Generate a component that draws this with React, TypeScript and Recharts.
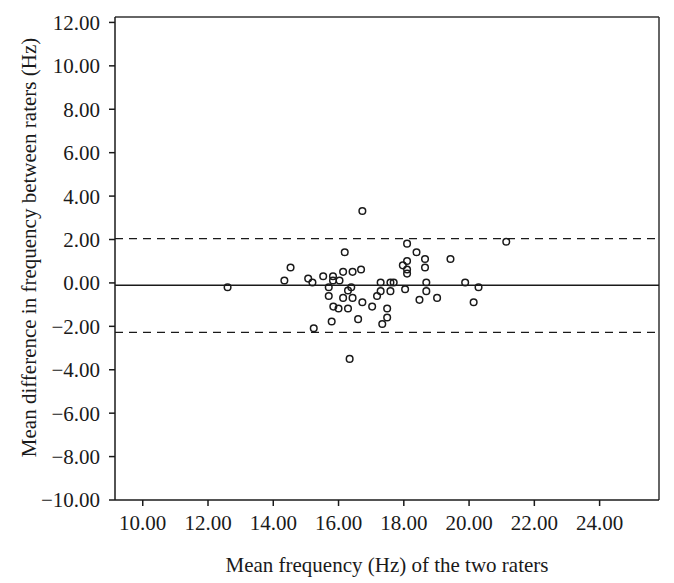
import {
  ReferenceLine,
  Scatter,
  ScatterChart,
  XAxis,
  YAxis,
} from "recharts";

const meanFrequency = [
  12.6, 14.34, 14.53, 15.07, 15.2, 15.24, 15.53, 15.7, 15.7, 15.79, 15.83,
  15.83, 15.84, 16.0, 16.03, 16.14, 16.19, 16.14, 16.29, 16.29, 16.34, 16.39,
  16.43, 16.43, 16.6, 16.69, 16.73, 16.73, 17.03, 17.18, 17.29, 17.29, 17.49,
  17.49, 17.34, 17.59, 17.69, 17.59, 18.04, 17.97, 18.1, 18.1, 18.1, 18.1,
  18.39, 18.48, 18.65, 18.65, 18.69, 18.69, 19.02, 19.43, 19.88, 20.29, 20.14,
  21.14,
];

const meanDifference = [
  -0.2, 0.11, 0.71, 0.2, 0.02, -2.09, 0.31, -0.2, -0.6, -1.78, 0.31, 0.11,
  -1.09, -1.18, 0.11, 0.51, 1.41, -0.69, -0.35, -1.18, -3.5, -0.2, -0.69, 0.51,
  -1.67, 0.62, 3.31, -0.89, -1.09, -0.6, -0.38, 0.02, -1.18, -1.59, -1.89,
  0.02, 0.02, -0.38, -0.29, 0.81, 1.01, 0.62, 0.43, 1.81, 1.41, -0.78, 1.1,
  0.71, 0.02, -0.38, -0.69, 1.1, 0.02, -0.2, -0.89, 1.9,
];

const xTicks = [10, 12, 14, 16, 18, 20, 22, 24];
const yTicks = [-10, -8, -6, -4, -2, 0, 2, 4, 6, 8, 10, 12];

const xDomain = [9.15, 25.82];
const yDomain = [-10, 12.25];

const bias = -0.11;
const upperLimit = 2.04;
const lowerLimit = -2.28;

const data = meanFrequency.map((x, i) => ({ x, y: meanDifference[i] }));

const FONT = "'Liberation Serif', 'DejaVu Serif', serif";
const INK = "#1a1a1a";

const fmt = (v: number) => {
  const s = Math.abs(v).toFixed(2);
  return v < 0 ? `\u2212${s}` : s;
};

const tickStyle = { fontFamily: FONT, fontSize: 21, fill: INK };

const App = () => {
  return (
    <div style={{ position: "absolute", left: 0, top: 0, background: "#fff" }}>
      <ScatterChart
        width={674}
        height={583}
        margin={{ top: 17, right: 15, left: 0, bottom: 0 }}
      >
        <XAxis
          dataKey="x"
          type="number"
          domain={xDomain}
          allowDataOverflow
          ticks={xTicks}
          tickFormatter={fmt}
          tick={tickStyle}
          tickSize={6}
          tickMargin={9}
          height={83}
          stroke={INK}
          strokeWidth={1.5}
          label={{
            value: "Mean frequency (Hz) of the two raters",
            position: "insideBottom",
            offset: 11,
            style: { fontFamily: FONT, fontSize: 21, fill: INK },
          }}
        />
        <YAxis
          dataKey="y"
          type="number"
          domain={yDomain}
          allowDataOverflow
          ticks={yTicks}
          tickFormatter={fmt}
          tick={tickStyle}
          tickSize={6}
          tickMargin={9}
          width={115}
          stroke={INK}
          strokeWidth={1.5}
          label={{
            content: (props: any) => {
              const vb = props.viewBox || { x: 0, y: 17, height: 483 };
              const cx = vb.x + 29;
              const cy = vb.y + vb.height / 2 - 11;
              return (
                <text
                  x={cx}
                  y={cy}
                  transform={`rotate(-90 ${cx} ${cy})`}
                  textAnchor="middle"
                  dominantBaseline="central"
                  style={{ fontFamily: FONT, fontSize: 21, fill: INK }}
                >
                  Mean difference in frequency between raters (Hz)
                </text>
              );
            },
          }}
        />
        {/* frame: top and right edges */}
        <ReferenceLine y={yDomain[1]} stroke="#333" strokeWidth={1.5} />
        <ReferenceLine x={xDomain[1]} stroke="#333" strokeWidth={1.5} />
        <ReferenceLine y={bias} stroke={INK} strokeWidth={1.4} />
        <ReferenceLine
          y={upperLimit}
          stroke={INK}
          strokeWidth={1.4}
          strokeDasharray="8 6"
        />
        <ReferenceLine
          y={lowerLimit}
          stroke={INK}
          strokeWidth={1.4}
          strokeDasharray="8 6"
        />
        <Scatter
          data={data}
          isAnimationActive={false}
          shape={(p: any) => (
            <circle
              cx={p.cx}
              cy={p.cy}
              r={3.3}
              fill="none"
              stroke={INK}
              strokeWidth={1.5}
            />
          )}
        />
      </ScatterChart>
    </div>
  );
};

export default App;
